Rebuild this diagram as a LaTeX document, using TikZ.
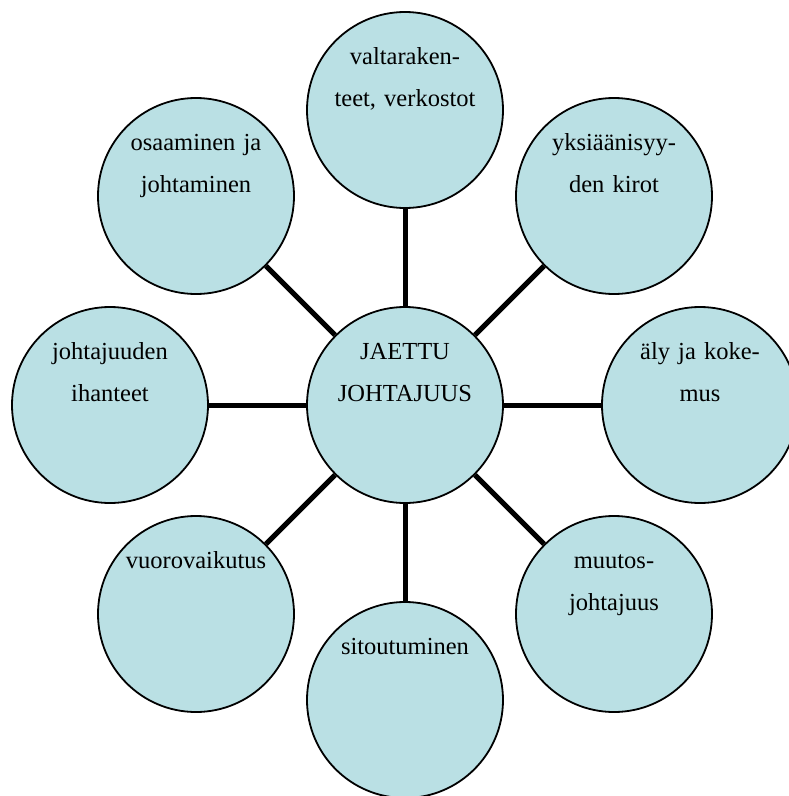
\documentclass[tikz,border=0pt]{standalone}
\usepackage{fontspec}
\setmainfont{Liberation Serif}
\usetikzlibrary{backgrounds}
\definecolor{bubblefill}{RGB}{186,224,228}
\begin{document}
\begin{tikzpicture}[x=1pt,y=-1pt,
  bubble/.style={circle, draw=black, line width=1.8pt, fill=bubblefill,
    minimum size=196pt, inner sep=0pt},
  spoke/.style={line width=5pt, draw=black},
  caption/.style={align=center, text width=190pt, inner sep=0pt,
    anchor=base, text=black, font=\fontsize{24.5}{42}\selectfont}]
\useasboundingbox (0,0) rectangle (789,796);
\clip (0,0) rectangle (789,796);

% hub and the eight surrounding bubbles
\node[bubble] (hub) at (405,405) {};
\node[bubble] (n)  at (405,110) {};
\node[bubble] (ne) at (614,196) {};
\node[bubble] (e)  at (700,405) {};
\node[bubble] (se) at (614,614) {};
\node[bubble] (s)  at (405,700) {};
\node[bubble] (sw) at (196,614) {};
\node[bubble] (w)  at (110,405) {};
\node[bubble] (nw) at (196,196) {};

% spokes behind the bubbles
\begin{pgfonlayer}{background}
  \foreach \t in {n,ne,e,se,s,sw,w,nw}
    \draw[spoke] (hub) -- (\t);
\end{pgfonlayer}

% captions, first baseline 46pt above each bubble centre
\node[caption] (thub) at ([yshift=46pt]hub.center) {JAETTU\\JOHTAJUUS};
\node[caption] (tn)  at ([yshift=46pt]n.center)  {valtaraken-\\teet, verkostot};
\node[caption] (tne) at ([yshift=46pt]ne.center) {yksiäänisyy-\\den kirot};
\node[caption] (te)  at ([yshift=46pt]e.center)  {äly ja koke-\\mus};
\node[caption] (tse) at ([yshift=46pt]se.center) {muutos-\\johtajuus};
\node[caption] (ts)  at ([yshift=46pt]s.center)  {sitoutuminen};
\node[caption] (tsw) at ([yshift=46pt]sw.center) {vuorovaikutus};
\node[caption] (tw)  at ([yshift=46pt]w.center)  {johtajuuden\\ihanteet};
\node[caption] (tnw) at ([yshift=46pt]nw.center) {osaaminen ja\\johtaminen};
\end{tikzpicture}
\end{document}
